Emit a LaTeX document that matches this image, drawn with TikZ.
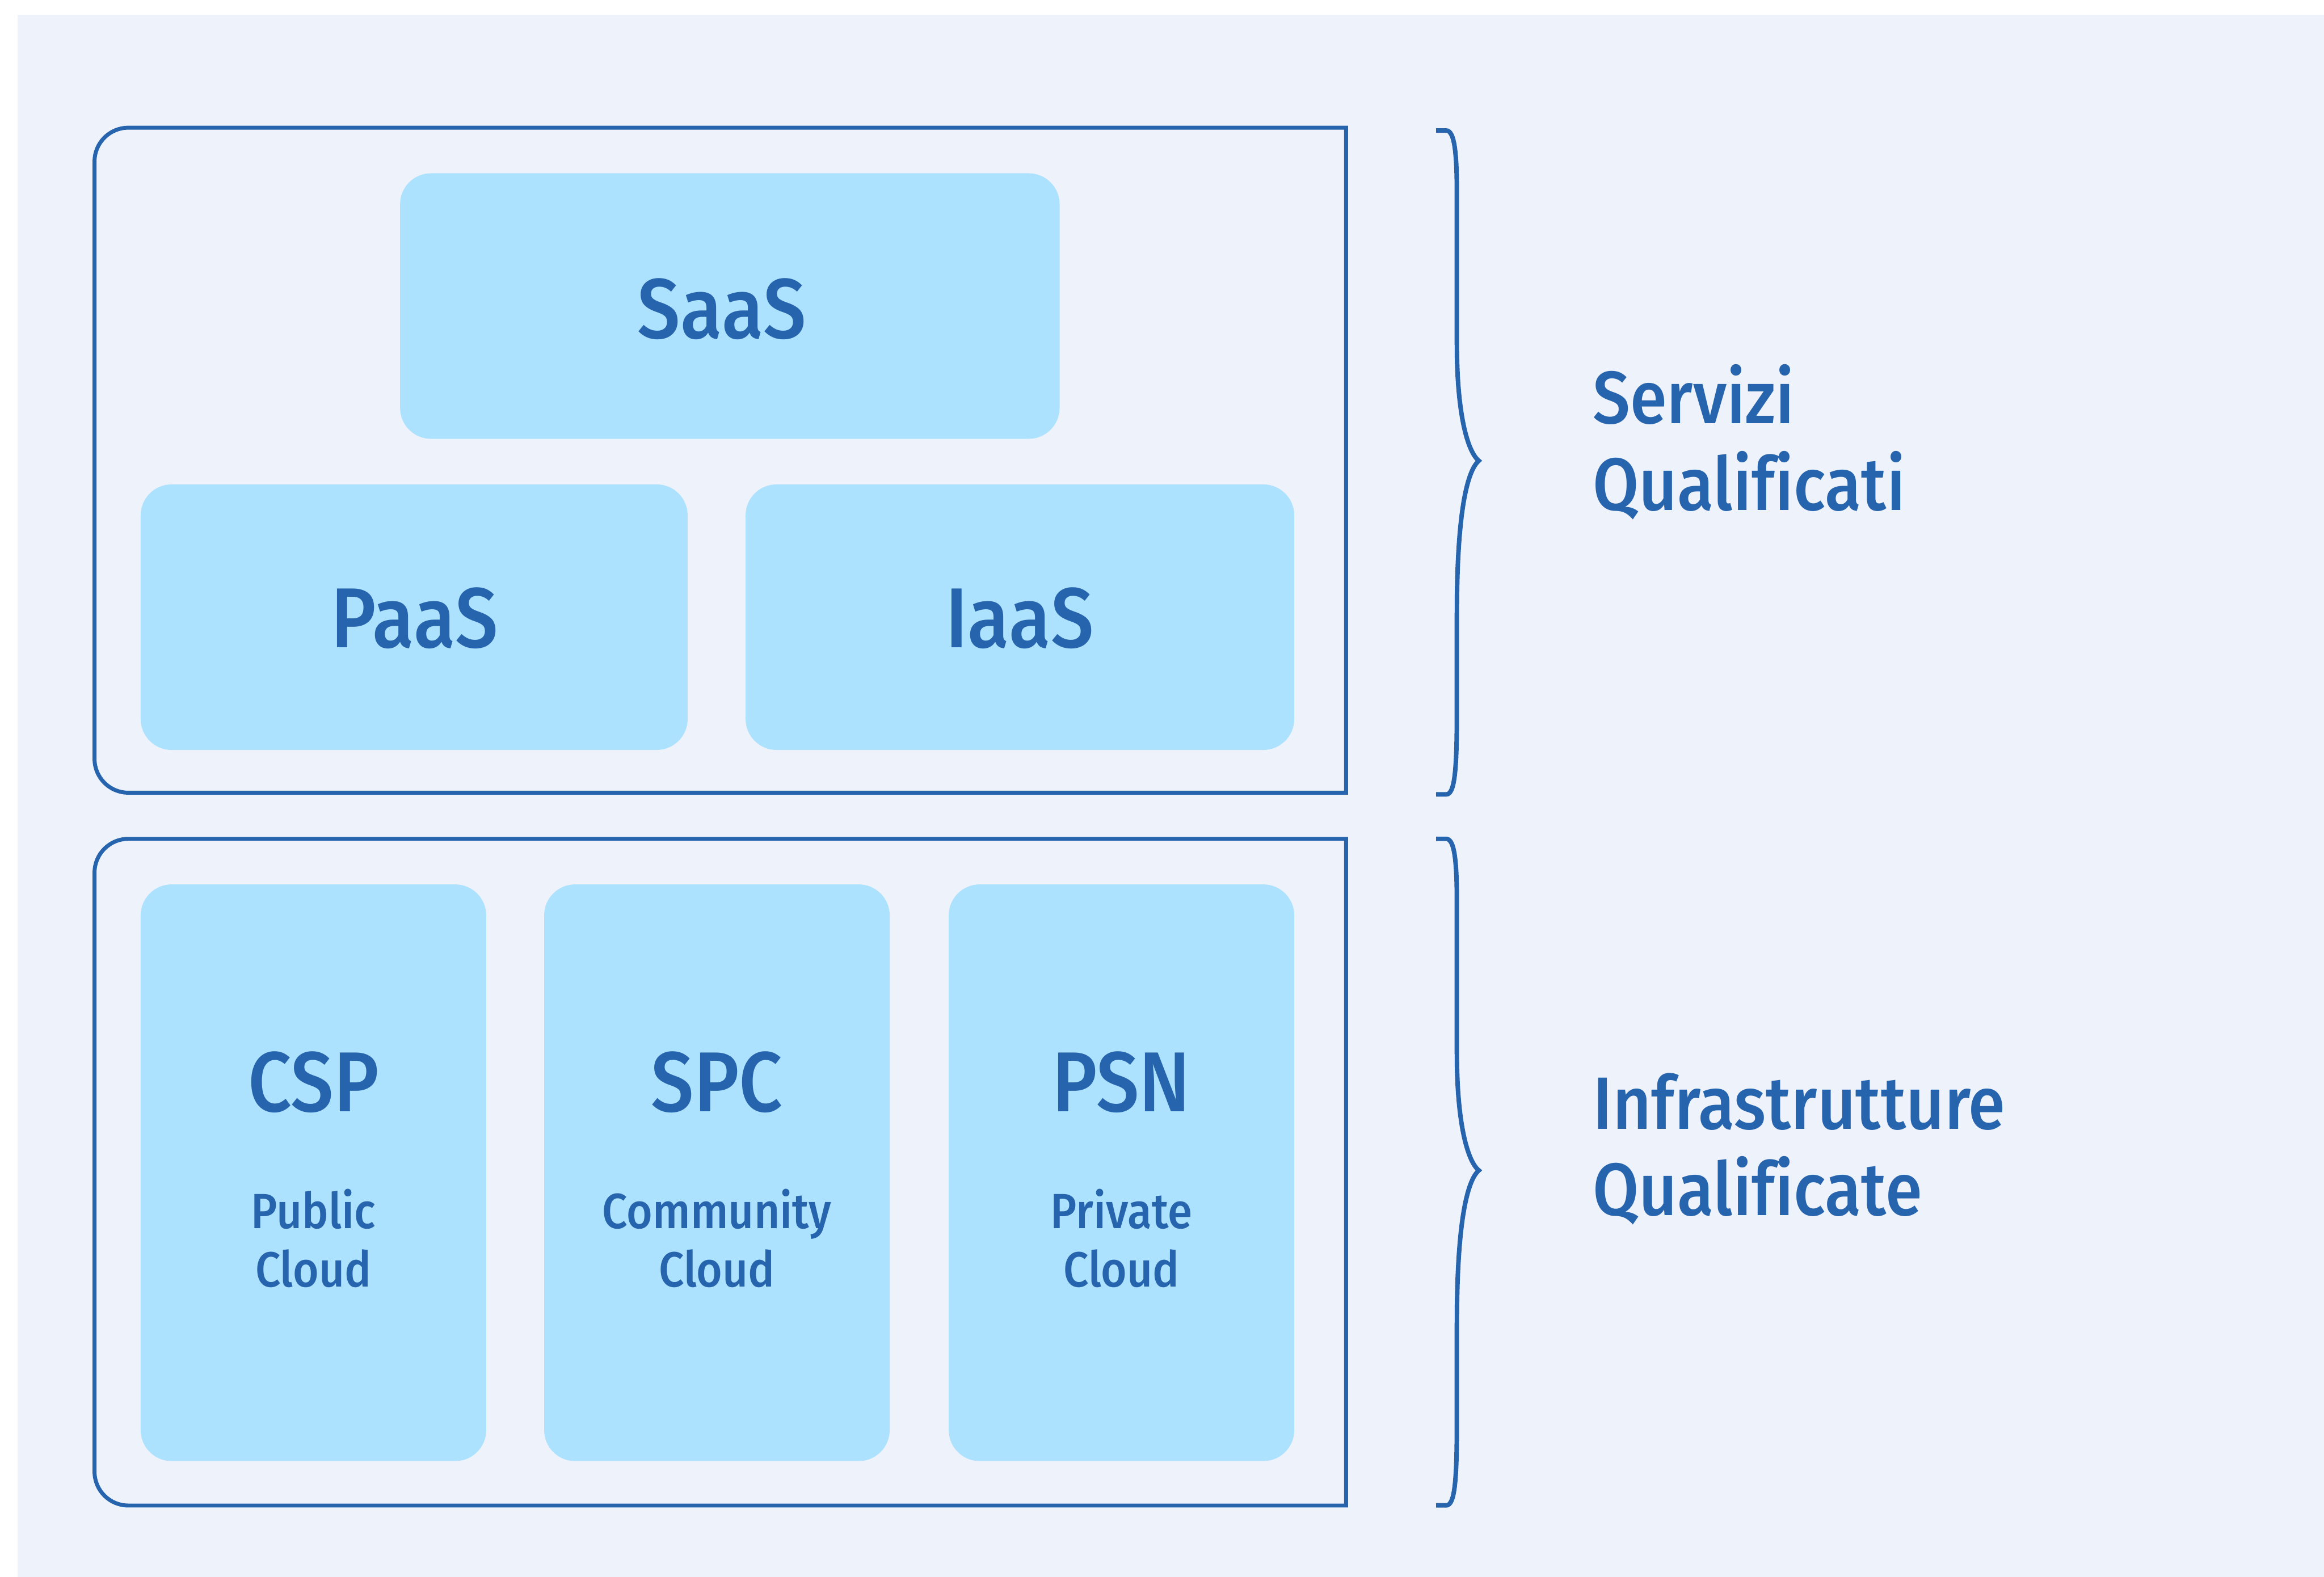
\documentclass[tikz,border=0pt]{standalone}
\usepackage{fontspec}
\setmainfont{Fira Sans}[FakeStretch=0.9]
\newfontfamily\semib{Fira Sans Medium}[FakeStretch=0.9,Ligatures=NoCommon]
\definecolor{bgc}{HTML}{EEF2FB}
\definecolor{navy}{HTML}{2764AE}
\definecolor{boxc}{HTML}{ADE2FE}
\begin{document}
\begin{tikzpicture}[x=1cm,y=1cm,
  frame/.style={draw=navy,line width=0.07cm,line join=miter},
  tile/.style={fill=boxc,draw=none,rounded corners=0.55cm,inner sep=0pt},
  big/.style={text=navy,font=\semib\fontsize{43}{46}\selectfont,anchor=base,inner sep=0pt},
  small/.style={text=navy,font=\semib\fontsize{25}{28}\selectfont,anchor=base,inner sep=0pt},
  side/.style={text=navy,font=\semib\fontsize{37.5}{42}\selectfont,anchor=base west,inner sep=0pt},
  qbrace/.pic={\draw[navy,line width=0.08cm]
    (0,0) -- (0.18,0) .. controls (0.33,0) and (0.37,-0.4) .. (0.37,-1.15)
    -- (0.37,-3.8) .. controls (0.37,-5.0) and (0.55,-5.7) .. (0.76,-5.87)
    .. controls (0.55,-6.05) and (0.37,-6.8) .. (0.37,-8.6)
    -- (0.37,-10.3) .. controls (0.37,-11.4) and (0.33,-11.8) .. (0.18,-11.8)
    -- (0,-11.8);}
]
\useasboundingbox (0,0) rectangle (41.30,-28.03);
\fill[bgc] (0.31,-0.26) rectangle (41.30,-28.03);

% frames
\draw[frame] (23.92,-2.27) -- (2.28,-2.27) arc (90:180:0.6) -- (1.68,-13.49) arc (180:270:0.6) -- (23.92,-14.09) -- cycle;
\draw[frame] (23.92,-14.91) -- (2.28,-14.91) arc (90:180:0.6) -- (1.68,-26.16) arc (180:270:0.6) -- (23.92,-26.76) -- cycle;

% tiles
\node[tile,minimum width=11.72cm,minimum height=4.72cm] (saas) at (12.97,-5.44) {};
\node[tile,minimum width=9.72cm,minimum height=4.72cm] (paas) at (7.36,-10.97) {};
\node[tile,minimum width=9.75cm,minimum height=4.72cm] (iaas) at (18.125,-10.97) {};
\node[tile,minimum width=6.14cm,minimum height=10.25cm] (csp) at (5.57,-20.845) {};
\node[tile,minimum width=6.14cm,minimum height=10.25cm] (spc) at (12.74,-20.845) {};
\node[tile,minimum width=6.14cm,minimum height=10.25cm] (psn) at (19.93,-20.845) {};

\node[big] (saast) at (12.83,-6.01) {SaaS};
\node[big] (paast) at (7.37,-11.51) {PaaS};
\node[big] (iaast) at (18.12,-11.51) {IaaS};
\node[big] (cspt) at (5.57,-19.76) {CSP};
\node[big] (spct) at (12.74,-19.76) {SPC};
\node[big] (psnt) at (19.93,-19.76) {PSN};
\node[small] (csp1) at (5.57,-21.83) {Public};
\node[small] (csp2) at (5.57,-22.87) {Cloud};
\node[small] (spc1) at (12.74,-21.83) {Community};
\node[small] (spc2) at (12.74,-22.87) {Cloud};
\node[small] (psn1) at (19.93,-21.83) {Private};
\node[small] (psn2) at (19.93,-22.87) {Cloud};

% braces
\pic at (25.52,-2.32) {qbrace};
\pic[yscale=1.004] at (25.52,-14.91) {qbrace};

\node[side] (s1) at (28.30,-7.53) {Servizi};
\node[side] (s2) at (28.30,-9.07) {Qualificati};
\node[side] (i1) at (28.30,-20.07) {Infrastrutture};
\node[side] (i2) at (28.30,-21.60) {Qualificate};
\end{tikzpicture}
\end{document}
